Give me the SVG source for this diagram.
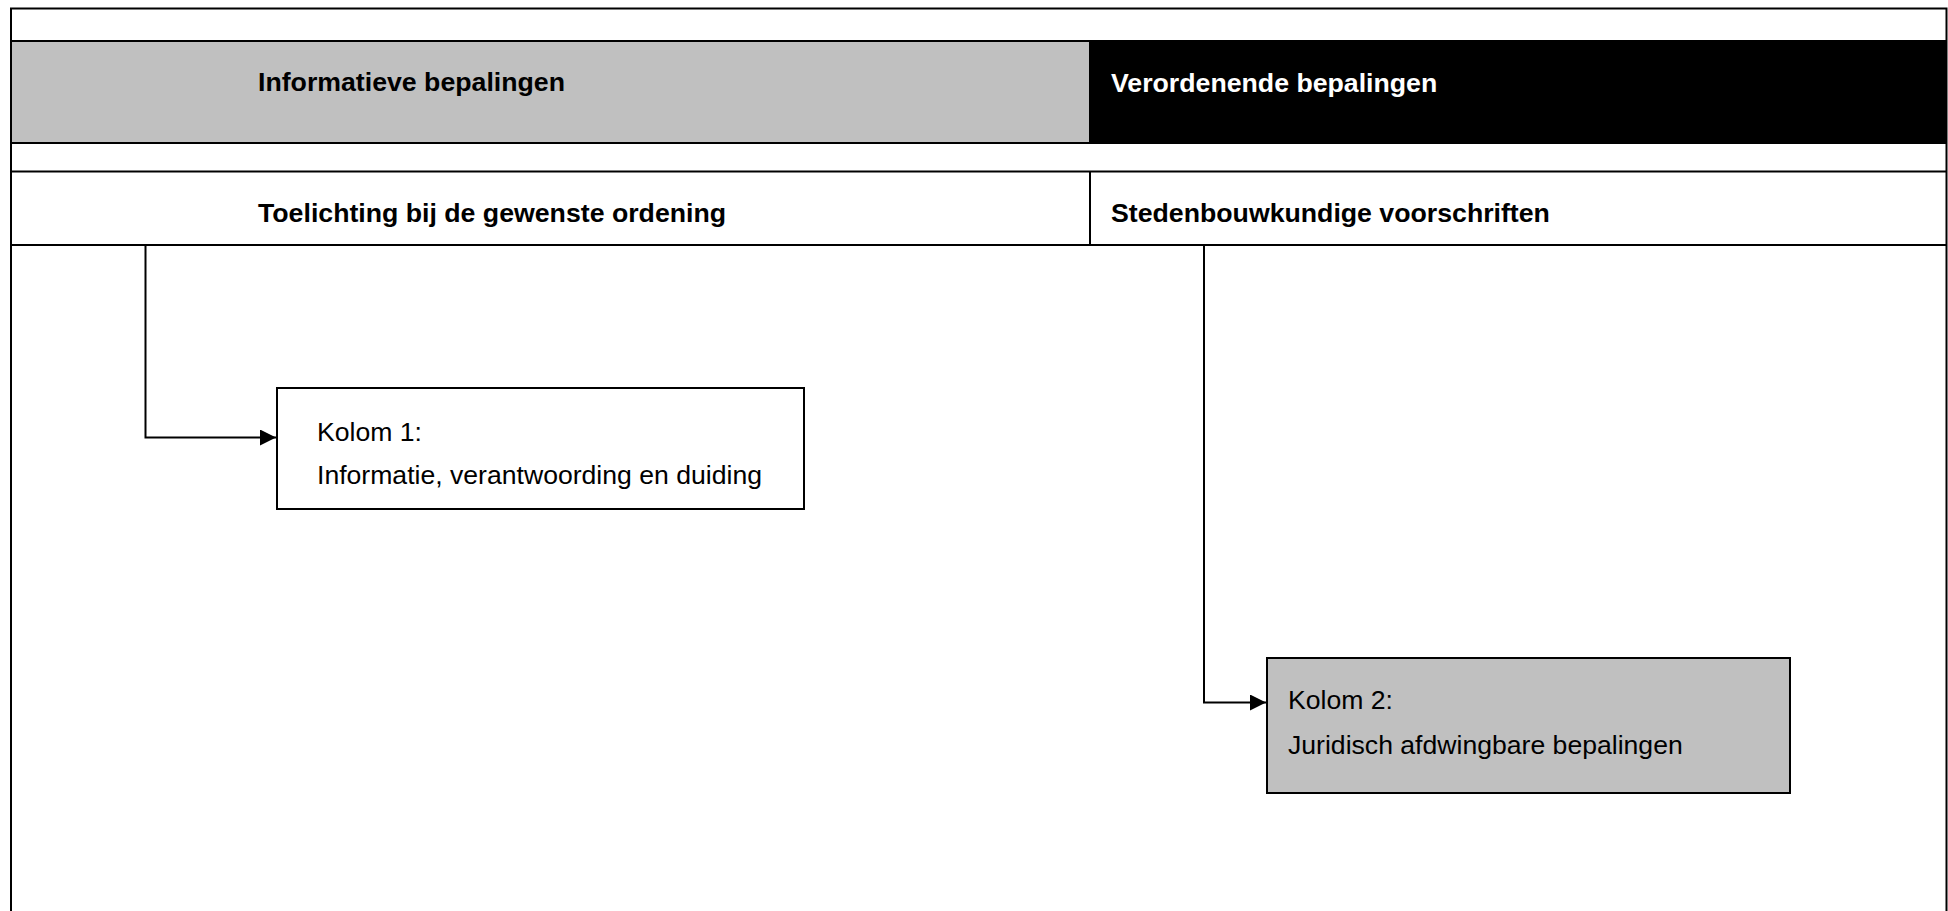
<svg xmlns="http://www.w3.org/2000/svg" width="1948" height="911" viewBox="0 0 1948 911">
<style>
.ln{stroke:#000;stroke-width:2;fill:none}
.hd{font-family:"Liberation Sans",Arial,sans-serif;font-weight:bold;font-size:26.7px}
.tx{font-family:"Liberation Sans",Arial,sans-serif;font-size:26.6px;fill:#000}
.box{stroke:#000;stroke-width:2}
</style>
<defs>
<marker id="ah" viewBox="0 0 10 10" refX="10" refY="5" markerWidth="8" markerHeight="8" markerUnits="strokeWidth" orient="auto">
<path d="M0,0 L10,5 L0,10 Z" fill="#000"/>
</marker>
</defs>
<rect width="1948" height="911" fill="#fff"/>
<g id="frame">
<rect x="11" y="41" width="1079" height="102" fill="#c0c0c0"/>
<rect x="1090" y="41" width="857" height="102" fill="#000"/>
<path class="ln" d="M11,920 V8.5 H1946.5 V920"/>
<path class="ln" d="M11,41 H1946.5 M11,143 H1946.5 M11,171.5 H1946.5 M11,245 H1946.5 M1090,41 V143 M1090,171.5 V245"/>
</g>
<g id="hdr-info"><text class="hd" x="258" y="91" fill="#000">Informatieve bepalingen</text></g>
<g id="hdr-verord"><text class="hd" x="1111" y="92" fill="#fff">Verordenende bepalingen</text></g>
<g id="hdr-toel"><text class="hd" x="258" y="222" fill="#000">Toelichting bij de gewenste ordening</text></g>
<g id="hdr-sted"><text class="hd" x="1111" y="222" fill="#000">Stedenbouwkundige voorschriften</text></g>
<g id="kolom1">
<rect class="box" x="277" y="388" width="527" height="121" fill="#fff"/>
<text class="tx" x="317" y="441">Kolom 1:</text>
<text class="tx" x="317" y="484">Informatie, verantwoording en duiding</text>
</g>
<g id="kolom2">
<rect class="box" x="1267" y="658" width="523" height="135" fill="#c0c0c0"/>
<text class="tx" x="1288" y="709">Kolom 2:</text>
<text class="tx" x="1288" y="754">Juridisch afdwingbare bepalingen</text>
</g>
<g id="connectors">
<path class="ln" d="M145.5,245 V437.5 H276" marker-end="url(#ah)"/>
<path class="ln" d="M1204,245 V702.5 H1266" marker-end="url(#ah)"/>
</g>
</svg>
